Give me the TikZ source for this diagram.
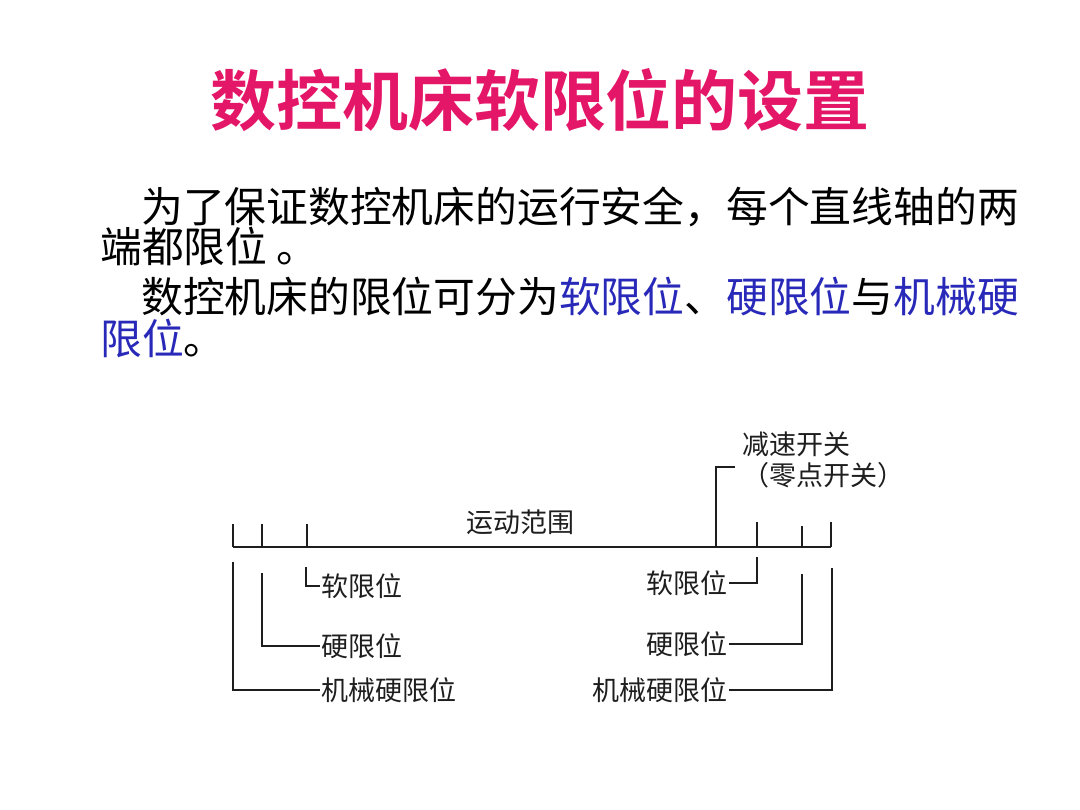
\documentclass[tikz,border=0pt]{standalone}
\usepackage{fontspec}
\setmainfont{Noto Sans CJK SC}
\newfontfamily\cjktitle{Noto Sans CJK SC Bold}
\definecolor{titlepink}{RGB}{228,22,104}
\definecolor{bodyblue}{RGB}{40,40,185}
\definecolor{lineink}{RGB}{30,30,30}
\begin{document}
\begin{tikzpicture}[x=1pt,y=-1pt,
  titletext/.style={font=\cjktitle\fontsize{66}{72}\selectfont, text=titlepink, inner sep=0pt},
  bodytext/.style={font=\fontsize{41.8}{48}\selectfont, anchor=west, inner sep=0pt},
  lbl/.style={font=\fontsize{27}{30}\selectfont, text=lineink, inner sep=1pt},
  ink/.style={draw=lineink, line width=1.7pt}]
\useasboundingbox (0,0) rectangle (1080,810);
\fill[white] (0,0) rectangle (1080,810);
% title
\node[titletext] (title) at (540,100) {数控机床软限位的设置};
% body text
\node[bodytext] (b1) at (141,207) {为了保证数控机床的运行安全，每个直线轴的两};
\node[bodytext] (b2) at (100,247) {端都限位 。};
\node[bodytext] (b3) at (141,297) {数控机床的限位可分为\textcolor{bodyblue}{软限位}、\textcolor{bodyblue}{硬限位}与\textcolor{bodyblue}{机械硬}};
\node[bodytext] (b4) at (100,338) {\textcolor{bodyblue}{限位}。};
% axis
\coordinate (axL) at (233,547);
\coordinate (axR) at (831,547);
\draw[ink] (axL) -- (axR);
% ticks
\foreach \n/\x/\t in {t1/233/524, t2/262/524, t3/307/524, t5/757/522, t6/802/526, t7/831/522}{
  \coordinate (\n top) at (\x,\t);
  \coordinate (\n bot) at (\x,547);
  \draw[ink] (\n top) -- (\n bot);
}
% deceleration switch bracket
\coordinate (t4bot) at (716,547);
\coordinate (t4end) at (735,467);
\draw[ink] (t4bot) |- (t4end);
\node[lbl, anchor=west] (dec1) at (741,444) {减速开关};
\node[lbl, anchor=west] (dec2) at (741,475) {（零点开关）};
\node[lbl] (range) at (520,522) {运动范围};
% left labels
\node[lbl, anchor=west] (softL) at (320,586) {软限位};
\node[lbl, anchor=west] (hardL) at (320,646) {硬限位};
\node[lbl, anchor=west] (mechL) at (320,690) {机械硬限位};
\coordinate (softLs) at (306,567);
\coordinate (hardLs) at (262,573);
\coordinate (mechLs) at (233,562);
\draw[ink] (softLs) |- (softL.west);
\draw[ink] (hardLs) |- (hardL.west);
\draw[ink] (mechLs) |- (mechL.west);
% right labels
\node[lbl, anchor=east] (softR) at (729,583) {软限位};
\node[lbl, anchor=east] (hardR) at (729,644) {硬限位};
\node[lbl, anchor=east] (mechR) at (729,690) {机械硬限位};
\coordinate (softRs) at (757,557);
\coordinate (hardRs) at (802,574);
\coordinate (mechRs) at (832,568);
\draw[ink] (softRs) |- (softR.east);
\draw[ink] (hardRs) |- (hardR.east);
\draw[ink] (mechRs) |- (mechR.east);
\end{tikzpicture}
\end{document}
